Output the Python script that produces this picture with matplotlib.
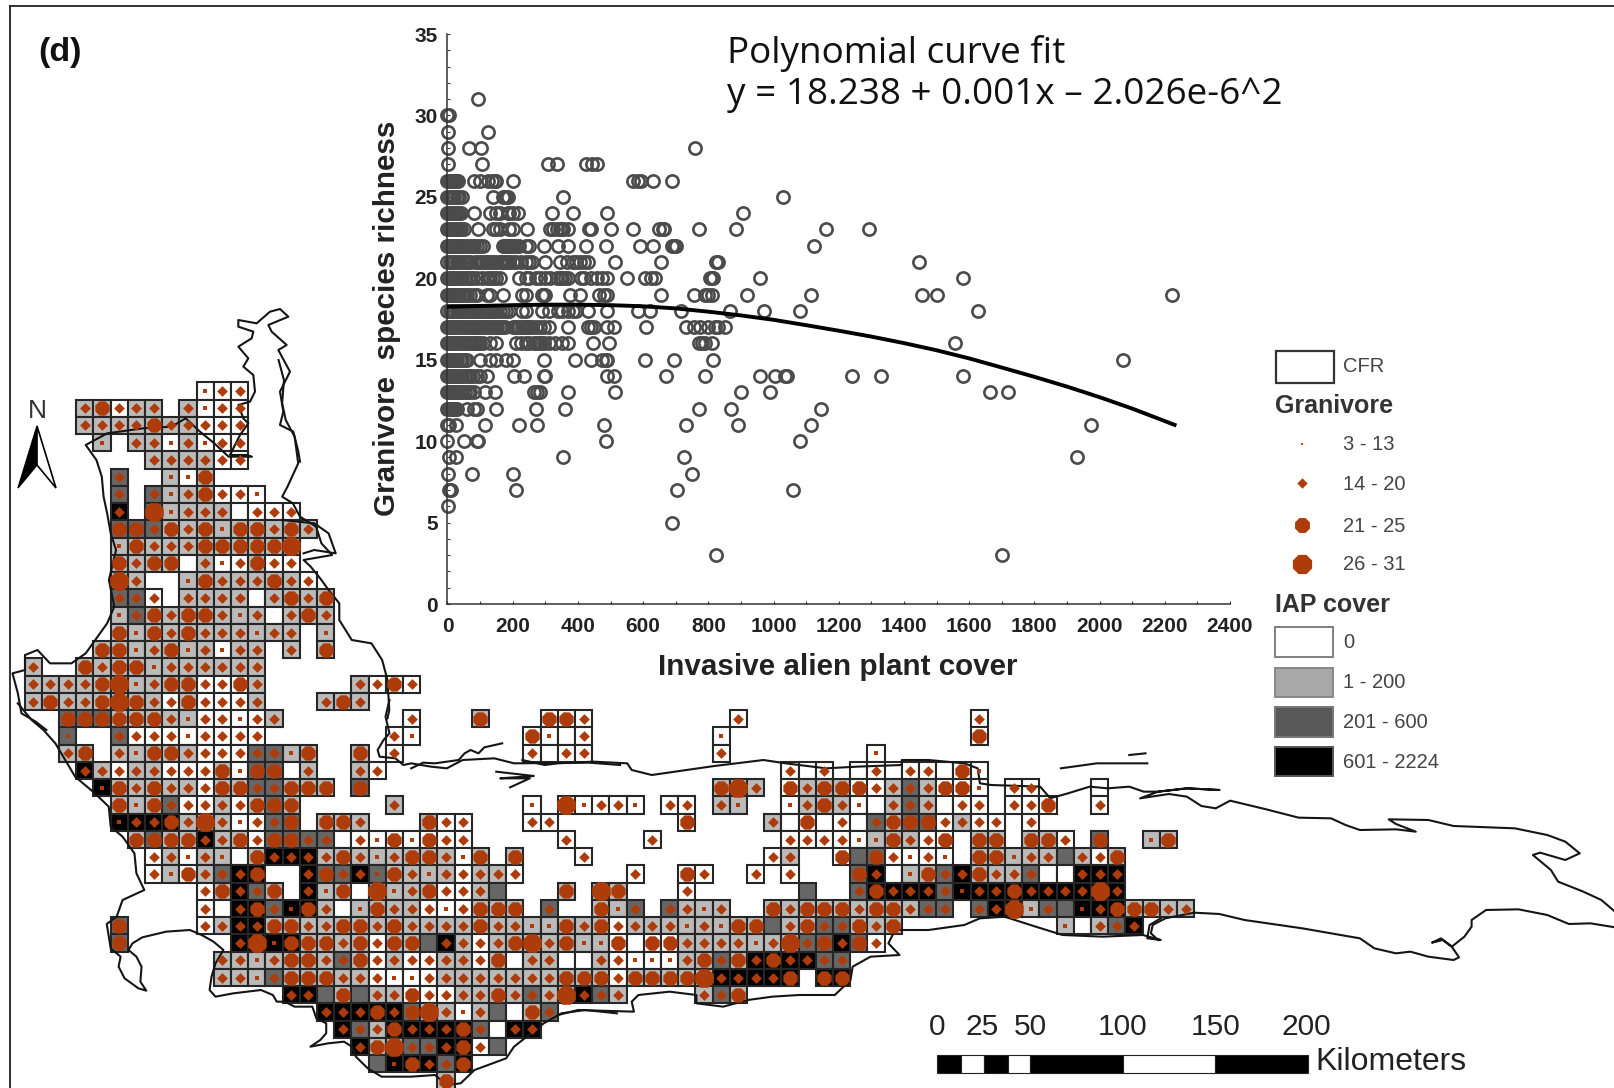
import numpy as np
import matplotlib
matplotlib.use("Agg")
import matplotlib.pyplot as plt
from matplotlib.patches import Polygon, Rectangle

# ---------------- scatter data: plant cover values per richness level ----------------
richness_levels = {
31: [94],
30: [0, 5],
29: [3, 125],
28: [3, 67, 103, 759],
27: [3, 107, 307, 335, 425, 442, 457],
26: [0, 4, 9, 14, 18, 23, 28, 33, 80, 100, 125, 135, 145, 150, 200, 570, 585, 595, 630, 690],
25: [0, 5, 10, 15, 20, 30, 35, 45, 140, 170, 175, 180, 185, 355, 1030],
24: [0, 5, 10, 15, 20, 25, 30, 35, 40, 80, 130, 150, 160, 185, 190, 200, 215, 320, 385, 490, 905],
23: [0, 5, 10, 15, 20, 25, 30, 35, 42, 50, 94, 140, 150, 160, 190, 200, 245, 315, 325, 335, 345, 350, 355, 370, 435, 440, 500, 570, 650, 660, 665, 770, 885, 1160, 1294],
22: [0, 6, 12, 18, 24, 30, 36, 42, 50, 58, 66, 74, 82, 90, 100, 110, 170, 176, 180, 186, 190, 195, 200, 210, 220, 240, 250, 295, 340, 370, 425, 485, 590, 630, 690, 695, 700, 1125],
21: [0, 7, 14, 21, 28, 35, 42, 50, 57, 64, 70, 85, 95, 103, 110, 118, 125, 132, 140, 150, 160, 166, 170, 175, 180, 185, 190, 200, 210, 225, 240, 250, 260, 300, 345, 365, 385, 395, 405, 420, 430, 515, 655, 825, 830, 1447],
20: [0, 6, 12, 18, 24, 30, 38, 46, 54, 62, 70, 78, 90, 105, 120, 130, 140, 150, 160, 220, 240, 250, 270, 285, 300, 315, 335, 345, 350, 360, 370, 410, 420, 440, 460, 475, 490, 550, 605, 625, 635, 805, 810, 815, 960, 1580],
19: [0, 6, 12, 18, 24, 30, 36, 44, 52, 60, 70, 80, 90, 120, 130, 170, 230, 240, 290, 295, 300, 375, 405, 465, 480, 490, 655, 755, 790, 800, 810, 920, 1115, 1454, 1502, 2221],
18: [0, 7, 14, 21, 28, 35, 42, 50, 57, 64, 70, 77, 84, 90, 97, 104, 110, 117, 124, 130, 137, 144, 150, 160, 170, 180, 190, 230, 240, 290, 310, 340, 350, 370, 385, 395, 430, 490, 585, 620, 715, 865, 970, 1080, 1626],
17: [0, 6, 12, 18, 24, 30, 38, 46, 55, 62, 70, 77, 85, 92, 100, 107, 115, 122, 130, 137, 145, 152, 160, 167, 175, 200, 207, 214, 220, 227, 234, 240, 247, 254, 260, 270, 285, 295, 310, 370, 430, 440, 450, 490, 510, 610, 730, 755, 775, 800, 820, 830, 850],
16: [0, 6, 12, 18, 24, 30, 38, 46, 55, 62, 70, 77, 85, 92, 100, 110, 130, 150, 210, 225, 240, 250, 265, 272, 280, 287, 295, 310, 330, 350, 370, 445, 495, 770, 780, 790, 810, 1556],
15: [0, 5, 10, 15, 20, 25, 30, 38, 46, 54, 60, 100, 130, 150, 180, 200, 295, 390, 440, 475, 485, 490, 605, 695, 815, 2073],
14: [0, 6, 12, 18, 24, 30, 38, 46, 54, 62, 70, 78, 90, 100, 120, 205, 235, 295, 300, 490, 510, 670, 790, 960, 1005, 1035, 1040, 1240, 1330, 1580],
13: [0, 5, 10, 15, 20, 25, 30, 38, 46, 54, 62, 70, 80, 115, 145, 265, 275, 285, 370, 515, 900, 990, 1664, 1718],
12: [0, 6, 12, 18, 24, 30, 60, 80, 90, 150, 270, 360, 770, 870, 1145],
11: [0, 5, 25, 115, 220, 275, 480, 730, 890, 1115, 1973],
10: [0, 50, 90, 95, 485, 1080],
9: [5, 25, 355, 725, 1932],
8: [3, 75, 200, 750],
7: [5, 10, 210, 705, 1060],
6: [3],
5: [690],
3: [825, 1700],
}
fit_x = [0, 100, 200, 300, 400, 500, 600, 700, 800, 900, 1000, 1100, 1200, 1300, 1400, 1500, 1600, 1700, 1800, 1900, 2000, 2100, 2230]
fit_y = [18.25, 18.3, 18.35, 18.38, 18.38, 18.35, 18.28, 18.15, 17.95, 17.72, 17.45, 17.12, 16.78, 16.42, 16.02, 15.58, 15.08, 14.52, 13.95, 13.35, 12.7, 12.0, 11.0]
x_major = list(range(0, 2401, 200))
y_major = list(range(0, 36, 5))

# ---------------- map grid: (row, first column, cells); letter = IAP class, digit = richness class ----------------
map_cells = [
(0,10,"w1 w2 w2"),
(1,3,"g2 g3 w2 g2 g2 -- g2 w1 w2 w2"),
(2,3,"g2 g2 g2 g2 g3 g2 g2 w2 w2 w2"),
(3,4,"g1 -- g2 g2 w1 g2 w1 w2 w2"),
(4,7,"g2 g2 g2 g2 w2 w2"),
(5,5,"d2 -- -- g1 w1 g3"),
(6,5,"d2 -- d2 g1 g2 g3 w2 w2 w1"),
(7,5,"k2 -- d4 g1 g2 g2 g2 w0 w2 w2 w2"),
(8,5,"d3 d3 d2 g3 g2 g3 g1 g3 g3 g2 g3 g2"),
(9,5,"g1 g3 g2 g2 g2 g3 g3 g3 g3 g3 g4"),
(10,5,"g3 g2 g3 g3 w0 g2 w1 w2 g3 w2 w2"),
(11,5,"g4 g2 -- -- g1 g3 g2 g2 g2 g3 g2 w2"),
(12,5,"d2 d2 w2 -- g2 g2 g2 g2 w0 g2 g3 g2 g3"),
(13,5,"g1 d2 g3 g2 g3 g3 g2 g1 g2 w0 g2 g3 g2"),
(14,5,"g3 g1 g3 g2 g3 g2 g2 g2 g1 g2 g2 -- g1"),
(15,4,"g3 g3 g1 g2 g3 g1 g2 w1 g2 g2 -- g2 -- g3"),
(16,0,"g2 -- -- g3 g2 g3 g3 g1 g2 g2 g2 g2 g2 g2"),
(17,0,"g2 g2 g2 g2 g3 g4 g1 g2 g3 g3 w2 w2 w3 g2"),(17,19,"g2 w2 w3 w2"),
(18,0,"g2 g3 g2 g2 g3 g4 g3 g2 w2 g3 w2 w2 w2 g2"),(18,17,"g2 g3 g2"),
(19,2,"d3 d3 d3 g3 g3 g3 g2 g1 w2 w2 w1 w2 g2"),(19,22,"w2"),(19,26,"g3"),(19,30,"w3 w3 w2"),(19,41,"w2"),(19,55,"w2"),
(20,2,"d1 -- -- d2 w2 w2 w2 w1 w2 w2 w2 w2"),(20,21,"w2 w1"),(20,29,"w3 w1 w0 w2"),(20,40,"w1"),(20,55,"w3"),
(21,2,"g2 g3 -- g2 g1 g3 g3 g2 w2 w2 w2 d2 d2 g1 g3"),(21,19,"g3 -- w2"),(21,29,"w2 w0 w2 w2"),(21,40,"w2"),(21,49,"w1"),
(22,3,"k2 g2 w2 g2 g2 w2 w2 w2 g3 w1 d3 d3 w0 g2"),(22,19,"g2 w2"),(22,44,"w2 w0 w2 -- w0 w2 w0 w2 w2 w0 w3 w1"),
(23,4,"k1 g3 g2 g3 g2 g2 w2 g3 g3 d2 d2 g3 g3 g3"),(23,19,"d3"),(23,40,"g3 g4 g2"),(23,44,"w3 g2 g3 g3 w3 w2 g2 d2 g2 w3 w3 w1"),(23,57,"w2 w2"),(23,62,"w0"),
(24,5,"g3 g1 g3 d2 w2 w2 g2 w2 g3 d3 g3"),(24,21,"g2"),(24,29,"w1 -- w4 w1 w2 w2 w1"),(24,37,"w2 w2"),(24,40,"g2 g1"),(24,44,"w1 g2 g3 g2 w1 w0 g2 d2 g2 w0 w2 w2"),(24,57,"w2 w2 w3"),(24,62,"w2"),
(25,5,"k1 k2 k2 k3 g2 g4 g2 w1 w2 d2 d3"),(25,17,"g3 g3 g2"),(25,23,"g3 w2 w2"),(25,29,"w2 w2"),(25,38,"w3"),(25,43,"g2 w0 w3 w0 w2 w0 d2 g3 d3 d3 w2 g2 w2 w2"),(25,58,"w2"),
(26,6,"g3 d3 g3 g3 k2 g2 g3 w2 d3 d3 d2 d2 w0 w2 w1 w3 w1 w3 w2 w2"),(26,31,"w2"),(26,36,"w2"),(26,44,"w2 w2 w2 w2 w1 g1 g3 g2 w2 w3"),(26,55,"g3 g3"),(26,58,"g3 g3 w2"),(26,62,"d3"),(26,65,"g1 g3"),
(27,7,"w2 g2 w1 g2 g1 w0 g3 k2 k2 k2 g2 g3 g2 g1 g2 g3 g3 g2 w1 g3"),(27,28,"g3"),(27,32,"w2"),(27,43,"w2 g2"),(27,47,"w3 d0 d3 w2 w1 w2 w1"),(27,55,"g3 g3 g1 g2 g2 d0 g2 w2 g3"),
(28,7,"w2 g1 w3 g2 d2 k2 k3 -- -- k2 d3 d2 k2 d1 g3 g2 g1 g2 w2 g2 g2 w2"),(28,35,"w2"),(28,38,"w3 w2"),(28,42,"w2"),(28,44,"w2"),(28,48,"d3 k2 w0 g1 g3 d2 k2 g3 g2 g2 d2 w0 w0 k2 k2 k2"),
(29,10,"w2 g3 k2 d2 g3 -- k2 g1 g3 w0 g4 g1 g2 g3 w2 w2 g2 d0"),(29,31,"g3 -- g4 g3"),(29,38,"w2"),(29,45,"d0"),(29,48,"d2 k3 k2 k2 k2 d2 k1 k2 k2 k3 k2 k2 k2 k2 k4 k2"),
(30,10,"w2 w0 k2 k3 d2 k1 k3 g2 w0 g1 g3 g2 g2 w2 w1 w2 g3 g3 g3"),(30,30,"d2"),(30,33,"g3 g1 d2"),(30,37,"d2 g2 g1 g2"),(30,43,"g3 g2 g3 g3 g3 g2 g3 g3 g2 d2 d2"),(30,55,"d2 k2 k4 g1 d2 d0 k1 k2 k3 g3 g3 g2 g2"),
(31,5,"d3"),(31,10,"w2 g2 k2 k2 g3 g3 g2 g2 g3 g3 g2 g3 g2 g2 g2 g2 g3 g2 g2 g1 g1 g3 g2 g3 w2 g2 g2 g2 g1 g2 g1 g3 g3 d0 g2 g3 d2 d2 g3 g2 g3"),(31,60,"g1 w0 g2 d2 k2"),
(32,5,"d3"),(32,12,"k2 k4 k1 k3 g3 g3 g2 g3 w2 g3 g3 d0 k2 g2 w2 g2 g3 g4 g2 g3 g1 g1 w3 w0 w3 w3 g2 g2 g2 g2 g1 g2 g4 d2 d3 k2 d3 w2"),
(33,11,"g2 g2 g1 g2 g3 g3 g2 d2 g3 w2 g2 w2 w2 g2 g2 w2 g3 w0 g2 g2 w0 w0 g2 w2 w1 w1 w1 g2 g3 d2 g3 k2 k3 k2 k2 d2 d2"),
(34,11,"g2 g2 g1 d2 g3 g3 g3 g2 g2 w2 w1 w1 w2 g2 g2 g2 g2 g2 g2 g2 g3 g3 g3 w2 g3 g3 g3 g3 g4 k2 k2 k2 k2 k3 -- k3 k3"),
(35,15,"k2 k2 d0 g3 d0 g2 g2 w3 w2 w2 g2 g2 g3 g2 d2 g2 g4 k2 d2 g2"),(35,39,"g2 d2 g3"),
(36,17,"k2 k2 k2 k3 k2 d3 g4 g2 w1 g2 d0 w0 g3 d2"),
(37,18,"k2 d2 g2 k3 k2 k2 k2 k3 d2 w0 k2 k2"),
(38,19,"k2 g3 g4 d2 d2 k2 k3 w2 d0"),
(39,20,"d0 k1 k3 k2 d2 k3"),
(40,24,"g3"),
]

# ---------------- outline traced in crops: (x divisor, x offset, points, y offset) ----------------
west_coast = (2.8, 0, [(700,290),(640,290),(600,250),(560,215),(520,175),(480,200),(400,205),(300,220),(240,255),(270,300),(285,350),(290,410),(300,460),(310,520),(325,570),(305,660),(320,740),(300,790),(240,880),(200,910),(140,910),(105,870),(70,885),(70,930),(35,940),(50,1000),(60,1060),(100,1085),(130,1110)], 360)
cape_coast = (2.529, 0, [(45,10),(80,60),(110,90),(140,130),(160,170),(190,230),(240,280),(275,320),(280,380),(310,410),(340,460),(345,520),(365,570),(310,600),(295,650),(270,672),(280,745),(305,770),(300,800),(315,835),(350,865),(370,872),(355,845),(358,800),(345,770),(325,750),(335,730),(360,712),(420,695),(480,690),(510,705),(540,725),(565,750),(545,790),(535,830),(530,870),(545,890),(590,880),(660,870),(690,885),(700,905),(720,905),(745,920),(790,920),(800,955),(825,970),(825,1000),(810,1020),(785,1040),(830,1030),(870,1025),(890,1040),(900,1070),(930,1105),(965,1130),(1040,1130),(1100,1125),(1130,1155),(1165,1150),(1200,1110),(1280,1075),(1300,1040),(1375,970),(1420,940),(1480,930),(1560,940)], 700)
south_coast = (2.24, 500, [(130,1005),(175,990),(300,995),(295,965),(310,945),(380,935),(440,945),(440,970),(500,980),(555,960),(610,950),(670,945),(750,945),(785,900),(790,860),(830,830),(895,825),(870,790),(885,750),(960,750),(1040,735),(1075,715),(1130,710),(1200,740),(1260,765),(1350,770),(1440,765),(1480,780),(1450,775),(1455,735),(1480,715)], 680)
east_loop = (2.775, 1050, [(300,660),(280,640),(285,615),(320,595),(400,578),(470,582),(540,600),(700,625),(860,655),(900,685),(960,700),(1000,695),(1050,710),(1120,720),(1135,712),(1115,680),(1085,655),(1060,668),(1090,660),(1115,680),(1150,650),(1170,620),(1170,600),(1210,570),(1300,568),(1380,585),(1440,612),(1500,610),(1568,622)], 720)
east_north = (2.775, 1050, [(1568,575),(1530,540),(1480,515),(1410,485),(1390,450),(1340,405),(1360,398),(1430,420),(1470,400),(1430,365),(1380,345),(1290,325),(1120,318),(1050,300),(940,298),(960,312),(1015,335),(960,328),(860,330),(820,315),(780,295),(690,293),(600,268),(500,242),(460,265),(420,258),(380,230),(330,222),(250,235),(300,215),(380,205),(470,210),(380,205),(300,215),(260,215),(220,200),(160,205),(110,200),(50,220),(0,235)], 720)
north_mid = (2.24, 500, [(1232,354),(1210,320),(1100,315),(1075,310),(1070,265),(1040,250),(960,240),(900,240),(900,255),(800,260),(730,265),(640,250),(590,240),(560,245),(480,258),(340,285),(295,270),(285,250),(210,245),(130,250),(100,255),(50,240)], 680)
north_west = (2.529, 0, [(1568,195),(1490,188),(1300,190),(1250,175),(1170,180),(1130,205),(1090,200),(1040,190),(1020,195),(1000,175),(960,170),(955,150),(970,120),(985,100),(975,50),(985,0)], 700)
inland = (2.8, 0, [(1085,1075),(1090,1050),(1085,960),(1070,900),(1040,850),(985,840),(950,780),(950,730),(920,690),(900,660),(870,620),(850,600),(930,585),(900,550),(885,500),(840,470),(820,430),(790,410),(805,380),(835,310),(825,230),(800,180),(790,130),(795,60),(780,0)], 360)
arm = (3.0, 200, [(300,500),(295,470),(280,410),(240,390),(250,350),(240,290),(270,230),(235,165),(260,150),(215,110),(205,90),(265,65),(240,42),(210,50),(170,85),(115,75),(115,95),(160,110),(155,130),(115,155),(145,190),(130,215),(160,240),(165,290),(150,320),(115,330),(130,370),(145,385),(120,420),(90,480),(140,480),(155,485)], 295)
estuary_a = (2.529, 0, [(1040,205),(1070,188),(1100,190),(1130,185),(1160,180),(1175,160),(1190,150),(1210,160),(1225,142),(1270,130)], 700)
estuary_b = (2.529, 0, [(1255,215),(1350,228),(1265,235),(1340,235),(1290,262)], 700)
estuary_c = (2.8, 0, [(790,480),(880,490),(920,520),(940,580),(880,570),(850,580)], 360)
islet_a = (2.775, 1050, [(30,145),(130,130),(270,130)], 720)
islet_b = (2.775, 1050, [(220,105),(265,100)], 720)
outline_parts = [west_coast, cape_coast, south_coast, east_loop, east_north, north_mid, north_west, inland, arm, estuary_a, estuary_b, estuary_c, islet_a, islet_b]

# ---------------- legend and scale bar ----------------
cover_labels = ["0", "1 - 200", "201 - 600", "601 - 2224"]
rich_labels = ["3 - 13", "14 - 20", "21 - 25", "26 - 31"]
scale_km = [0, 25, 50, 100, 150, 200]
scale_marks = [0, 13, 25, 38, 50, 100, 150, 200]

COVER = {"w": "#ffffff", "g": "#bababa", "d": "#666666", "k": "#000000"}
DOT = "#ae3c0a"
DOT_SIZE = {"1": 5, "2": 30, "3": 125, "4": 210}
DOT_MARK = {"1": "s", "2": "D", "3": "8", "4": "8"}

W, H = 1615, 1088
CX0, CW, RY0, RH = 33.2, 17.2, 391.0, 17.25
plt.rcParams["font.family"] = ["Liberation Sans", "DejaVu Sans"]
fig = plt.figure(figsize=(W / 100, H / 100), dpi=100, facecolor="white")

px = fig.add_axes([0, 0, 1, 1], zorder=1)
px.set_xlim(0, W); px.set_ylim(H, 0); px.axis("off")

mp = fig.add_axes([0, 0, 1, 1], zorder=2, facecolor="none")
mp.set_xlim(-CX0 / CW, (W - CX0) / CW); mp.set_ylim((H - RY0) / RH, -RY0 / RH); mp.axis("off")

dots = {k: ([], []) for k in DOT_SIZE}
for row, start, cells in map_cells:
    for i, tok in enumerate(cells.split()):
        if tok == "--":
            continue
        col = start + i
        mp.bar(col, 1, bottom=row - 0.5, width=1, color=COVER[tok[0]], edgecolor="#262626", linewidth=1.5, zorder=2)
        if tok[1] in dots:
            dots[tok[1]][0].append(col); dots[tok[1]][1].append(row)
for sx, ox, pts, oy in outline_parts:
    xs = [p[0] / sx + ox for p in pts]
    ys = [p[1] / 3.0 + oy for p in pts]
    mp.plot(xs, ys, color="#151515", lw=1.5, transform=px.transData, zorder=3, solid_joinstyle="round")
for k, (cs, rs) in dots.items():
    mp.scatter(cs, rs, s=DOT_SIZE[k], marker=DOT_MARK[k], color=DOT, linewidths=0, zorder=4)

# frame lines
px.plot([10.5, 10.5], [H, 6], color="#222222", lw=1.3)
px.plot([10.5, W], [6, 6], color="#222222", lw=1.3)

# scatter
ax = fig.add_axes([447.5 / W, (H - 604) / H, 782.5 / W, 570 / H], zorder=3, facecolor="none")
for y, xs in richness_levels.items():
    ax.plot(xs, [y] * len(xs), ls="none", marker="o", ms=8.8, mfc="none", mec="#4b4b4b", mew=1.9, clip_on=False)
ax.plot(fit_x, fit_y, color="black", lw=2.8, zorder=5)
ax.set_xlim(0, 2400); ax.set_ylim(0, 35)
ax.spines["top"].set_visible(False); ax.spines["right"].set_visible(False)
for s in ("left", "bottom"):
    ax.spines[s].set_color("#333333"); ax.spines[s].set_linewidth(1.1)
ax.set_xticks(x_major); ax.set_yticks(y_major)
ax.set_xticks(range(100, 2400, 200), minor=True); ax.set_yticks(range(0, 36), minor=True)
ax.tick_params(axis="both", which="both", direction="in", length=2.5, width=0.8, color="#333333")
ax.tick_params(axis="x", which="major", pad=9, labelsize=15, labelcolor="#222222")
ax.tick_params(axis="y", which="major", pad=7, labelsize=15, labelcolor="#222222")
for t in ax.get_xticklabels() + ax.get_yticklabels():
    t.set_fontweight("bold")

txt = dict(va="center", ha="left")
px.text(38, 52, "(d)", fontsize=24.5, fontweight="bold", color="#111111", **txt)
px.text(727, 53, "Polynomial curve fit", fontsize=26.6, family="Open Sans", color="#111111", **txt)
px.text(727, 95, "y = 18.238 + 0.001x \u2013 2.026e-6^2", fontsize=26.6, family="Open Sans", color="#111111", **txt)
px.text(387, 318, "Granivore  species richness", fontsize=21.3, fontweight="bold", color="#222222", rotation=90, ha="center", va="center")
px.text(838, 667, "Invasive alien plant cover", fontsize=21.3, fontweight="bold", color="#222222", ha="center", va="center")

# legend
px.add_patch(Rectangle((1276, 351), 58, 32, fc="white", ec="#333333", lw=1.6))
px.text(1343, 367, "CFR", fontsize=14.5, color="#444444", **txt)
px.text(1275, 406, "Granivore", fontsize=18, fontweight="bold", color="#333333", **txt)
rich_y = [444, 483, 525, 564]
rich_s = [4, 28, 135, 225]
for lab, yy, k, sz in zip(rich_labels, rich_y, "1234", rich_s):
    px.scatter([1302], [yy], s=sz, marker=DOT_MARK[k], color=DOT, linewidths=0)
    px.text(1343, yy + 1, lab, fontsize=14.5, color="#444444", **txt)
px.text(1275, 605, "IAP cover", fontsize=18, fontweight="bold", color="#333333", **txt)
box_y = [(627, 657), (668, 697), (707, 737), (747, 776)]
box_fc = ["white", "#a9a9a9", "#595959", "#000000"]
box_ec = ["#808080", "#888888", "#777777", "#555555"]
label_y = [642, 683, 722, 762]
for lab, (y0, y1), fc, ec, ly in zip(cover_labels, box_y, box_fc, box_ec, label_y):
    px.add_patch(Rectangle((1275, y0), 58, y1 - y0, fc=fc, ec=ec, lw=1.4))
    px.text(1343, ly, lab, fontsize=14.5, color="#444444", **txt)

# scale bar: km converted by px per km
km0, kmpx = 937.4, (1308 - 937.4) / 200
for a, b, i in zip(scale_marks[:-1], scale_marks[1:], range(7)):
    px.add_patch(Rectangle((km0 + a * kmpx, 1055), (b - a) * kmpx, 18, fc="black" if i % 2 == 0 else "white", ec="#222222", lw=0.8))
for km in scale_km:
    px.text(km0 + km * kmpx - (2 if km in (25, 200) else 0), 1027, str(km), fontsize=21.5, color="#222222", ha="center", va="center")
px.text(1315, 1062, "Kilometers", fontsize=23, color="#222222", **txt)

# north arrow
px.text(37.5, 411, "N", fontsize=19, color="#333333", ha="center", va="center")
px.add_patch(Polygon([(37, 426), (18, 488), (37, 465)], closed=True, fc="black", ec="black", lw=1))
px.add_patch(Polygon([(37, 426), (56, 488), (37, 465)], closed=True, fc="white", ec="black", lw=1.2))

fig.savefig("out.png", dpi=100)
